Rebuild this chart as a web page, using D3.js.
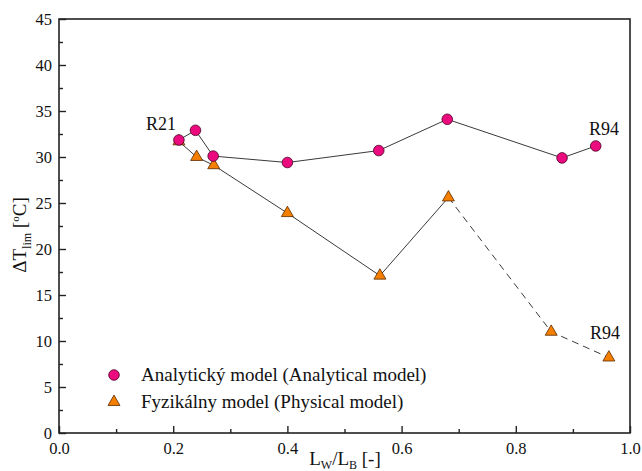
<!DOCTYPE html>
<html><head><meta charset="utf-8">
<script src="https://cdn.jsdelivr.net/npm/d3@7"></script>
<style>body{margin:0;background:#fff}svg{display:block}</style>
</head><body>
<svg id="c" width="642" height="471"></svg>
<script>
const analyticX = [0.21, 0.239, 0.27, 0.40, 0.56, 0.68, 0.881, 0.94];
const analyticY = [31.85, 32.9, 30.1, 29.4, 30.7, 34.1, 29.9, 31.2];
const physicalX = [0.21, 0.241, 0.271, 0.40, 0.562, 0.682, 0.862, 0.963];
const physicalY = [31.7, 30.0, 29.1, 23.9, 17.1, 25.6, 11.0, 8.2];
const physicalDashedFrom = 5; // segments after index 5 are dashed
const xTicks = [0, 0.2, 0.4, 0.6, 0.8, 1.0];
const yTicks = [0, 5, 10, 15, 20, 25, 30, 35, 40, 45];
const legendLabels = ["Analytický model (Analytical model)", "Fyzikálny model (Physical model)"];

const svg = d3.select("#c");
const L = 59, R = 630, T = 19, B = 433;
const x = d3.scaleLinear().domain([0, 1]).range([L, R]);
const y = d3.scaleLinear().domain([0, 45]).range([B, T]);

const pink = "#ec0a7f", orange = "#f57f00", lineC = "#3a3a3a";
const FONT = '"Liberation Serif"';

// frame
svg.append("rect").attr("x", L).attr("y", T).attr("width", R - L).attr("height", B - T)
  .attr("fill", "none").attr("stroke", "#222").attr("stroke-width", 1.6);

// axes with inward ticks
const xAxis = svg.append("g").attr("transform", `translate(0,${B})`)
  .call(d3.axisBottom(x).tickValues(xTicks).tickSize(-7).tickPadding(9).tickFormat(d3.format(".1f")));
const xMinor = svg.append("g").attr("transform", `translate(0,${B})`)
  .call(d3.axisBottom(x).tickValues(d3.range(0.1, 1, 0.2)).tickSize(-4).tickFormat(""));
const yAxis = svg.append("g").attr("transform", `translate(${L},0)`)
  .call(d3.axisLeft(y).tickValues(yTicks).tickSize(-7).tickPadding(7));
const yMinor = svg.append("g").attr("transform", `translate(${L},0)`)
  .call(d3.axisLeft(y).tickValues(d3.range(2.5, 45, 5)).tickSize(-4).tickFormat(""));
[xAxis, xMinor, yAxis, yMinor].forEach(g => {
  g.select(".domain").remove();
  g.selectAll("line").attr("stroke", "#222").attr("stroke-width", 1.4);
  g.selectAll("text").attr("font-size", 16.5).attr("fill", "#111").style("font-family", FONT);
});

// axis titles
const yl = svg.append("text").attr("transform", `translate(26,235) rotate(-90)`)
  .attr("text-anchor", "middle").attr("font-size", 19).attr("fill", "#111").style("font-family", FONT);
yl.append("tspan").text("ΔT");
yl.append("tspan").attr("font-size", 12).attr("dy", 5).text("lim");
yl.append("tspan").attr("dy", -5).text(" [");
yl.append("tspan").attr("font-size", 11).attr("dy", -7).text("o");
yl.append("tspan").attr("dy", 7).text("C]");

const xl = svg.append("text").attr("x", 345).attr("y", 465).attr("text-anchor", "middle")
  .attr("font-size", 19).attr("fill", "#111").style("font-family", FONT);
xl.append("tspan").text("L");
xl.append("tspan").attr("font-size", 12).attr("dy", 4).text("W");
xl.append("tspan").attr("dy", -4).text("/L");
xl.append("tspan").attr("font-size", 12).attr("dy", 4).text("B");
xl.append("tspan").attr("dy", -4).text(" [-]");

// lines
const aPts = analyticX.map((v, i) => [v, analyticY[i]]);
const pPts = physicalX.map((v, i) => [v, physicalY[i]]);
const line = d3.line().x(d => x(d[0])).y(d => y(d[1]));
svg.append("path").attr("d", line(pPts.slice(0, physicalDashedFrom + 1)))
  .attr("fill", "none").attr("stroke", lineC).attr("stroke-width", 1);
svg.append("path").attr("d", line(pPts.slice(physicalDashedFrom)))
  .attr("fill", "none").attr("stroke", lineC).attr("stroke-width", 1).attr("stroke-dasharray", "7,5");
svg.append("path").attr("d", line(aPts))
  .attr("fill", "none").attr("stroke", lineC).attr("stroke-width", 1);

// markers
const tri = d3.symbol().type(d3.symbolTriangle).size(62);
svg.append("g").selectAll("path").data(pPts).join("path")
  .attr("d", tri).attr("transform", d => `translate(${x(d[0])},${y(d[1])})`)
  .attr("fill", orange).attr("stroke", "#5a2a00").attr("stroke-width", 0.8);
svg.append("g").selectAll("circle").data(aPts).join("circle")
  .attr("cx", d => x(d[0])).attr("cy", d => y(d[1])).attr("r", 5.3)
  .attr("fill", pink).attr("stroke", "#4a0022").attr("stroke-width", 0.8);

// annotations
const ann = (t, ax, ay, fs) => svg.append("text").attr("x", ax).attr("y", ay)
  .attr("font-size", fs).attr("fill", "#111").style("font-family", FONT).text(t);
ann("R21", 146, 130, 18);
ann("R94", 589, 135, 18);
ann("R94", 590, 339, 18);

// legend
svg.append("circle").attr("cx", 114).attr("cy", 375).attr("r", 5.3)
  .attr("fill", pink).attr("stroke", "#4a0022").attr("stroke-width", 0.8);
svg.append("path").attr("d", tri).attr("transform", "translate(114,402)")
  .attr("fill", orange).attr("stroke", "#5a2a00").attr("stroke-width", 0.8);
ann(legendLabels[0], 141, 381, 19);
ann(legendLabels[1], 141, 408, 19);
</script>
</body></html>
